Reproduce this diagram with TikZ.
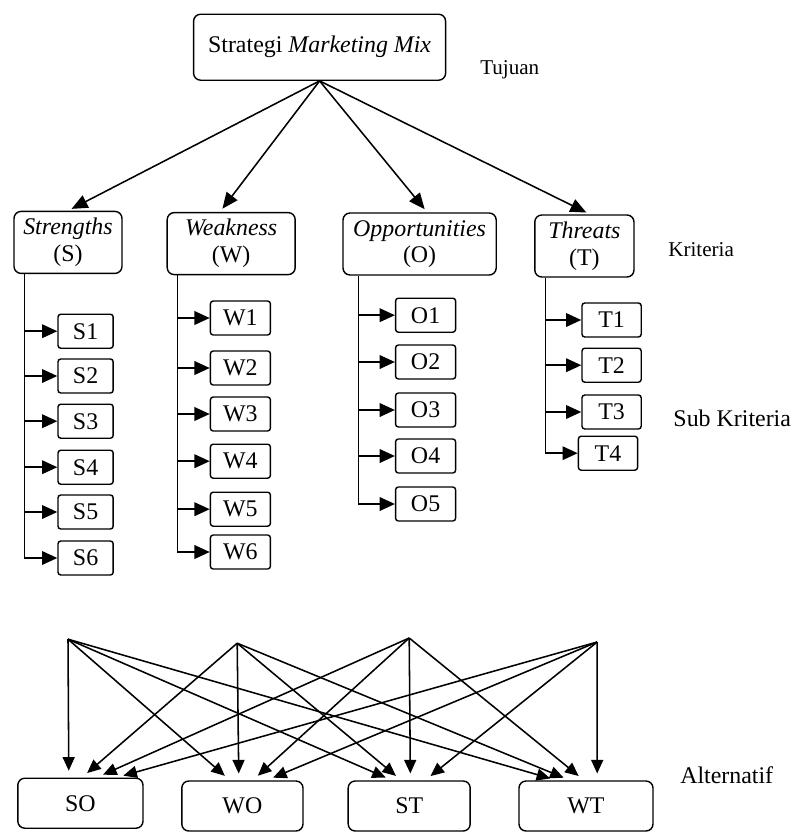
\documentclass[tikz,border=0pt]{standalone}
\usepackage{fontspec}
\setmainfont{Liberation Serif}
\usetikzlibrary{arrows.meta}
\begin{document}
\begin{tikzpicture}[
  goalbox/.style={draw, line width=1pt, rectangle, rounded corners=5pt,
                  minimum width=63mm, minimum height=16.5mm, font=\fontsize{17}{20}\selectfont},
  critbox/.style={draw, line width=1pt, rectangle, rounded corners=5pt,
                  minimum height=15.5mm, align=center, inner sep=1pt, font=\fontsize{17}{19}\selectfont},
  subbox/.style={draw, line width=1pt, rectangle, rounded corners=2pt,
                 minimum width=15mm, minimum height=8.5mm, inner sep=1pt, font=\fontsize{17}{20}\selectfont},
  altbox/.style={draw, line width=1pt, rectangle, rounded corners=5pt,
                 minimum height=12.5mm, font=\fontsize{17}{20}\selectfont},
  lvl/.style={anchor=west, inner sep=0pt, font=\fontsize{17}{20}\selectfont},
  toarr/.style={line width=1.1pt, -{Triangle[length=4mm, width=3.4mm]}, shorten >=1mm},
  subarr/.style={line width=1.1pt, -{Triangle[length=3.8mm, width=3.4mm]}},
  altarr/.style={line width=1.1pt, -{Triangle[length=3.4mm, width=3mm]}, shorten >=1.7mm},
]
\useasboundingbox (0,0) rectangle (19.925,-20.8);
\node[goalbox] (goal) at (7.99,-1.18) {Strategi \textit{Marketing Mix}};
\node[lvl, font=\fontsize{15}{18}\selectfont] (ltuj) at (12.0,-1.75) {Tujuan};
\node[critbox, minimum width=27mm] (s) at (1.70,-6.06) {\textit{Strengths}\\(S)};
\node[critbox, minimum width=32mm] (w) at (5.78,-6.09) {\textit{Weakness}\\(W)};
\node[critbox, minimum width=38.3mm] (o) at (10.49,-6.10) {\textit{Opportunities}\\(O)};
\node[critbox, minimum width=24.8mm] (t) at (14.61,-6.15) {\textit{Threats}\\(T)};
\node[lvl, font=\fontsize{15}{18}\selectfont] (lkrit) at (16.7,-6.25) {Kriteria};
\draw[toarr] (goal.south) -- (s.north);
\draw[toarr] (goal.south) -- ([xshift=-2.8mm]w.north);
\draw[toarr] (goal.south) -- ([xshift=1.9mm]o.north);
\draw[toarr] (goal.south) -- ([xshift=1.4mm]t.north);
\node[subbox, minimum width=13.8mm] (s1) at (2.14,-8.28) {S1};
\node[subbox, minimum width=13.8mm] (s2) at (2.14,-9.40) {S2};
\node[subbox, minimum width=13.8mm] (s3) at (2.14,-10.53) {S3};
\node[subbox, minimum width=13.8mm] (s4) at (2.14,-11.68) {S4};
\node[subbox, minimum width=13.8mm] (s5) at (2.14,-12.80) {S5};
\node[subbox, minimum width=13.8mm] (s6) at (2.14,-13.95) {S6};
\node[subbox] (w1) at (6.01,-7.95) {W1};
\node[subbox] (w2) at (6.01,-9.20) {W2};
\node[subbox] (w3) at (6.01,-10.35) {W3};
\node[subbox] (w4) at (6.01,-11.53) {W4};
\node[subbox] (w5) at (6.01,-12.73) {W5};
\node[subbox] (w6) at (6.01,-13.80) {W6};
\node[subbox] (o1) at (10.64,-7.88) {O1};
\node[subbox] (o2) at (10.64,-9.05) {O2};
\node[subbox] (o3) at (10.64,-10.25) {O3};
\node[subbox] (o4) at (10.64,-11.40) {O4};
\node[subbox] (o5) at (10.64,-12.60) {O5};
\node[subbox, minimum width=14.8mm] (t1) at (15.29,-8.00) {T1};
\node[subbox, minimum width=14.8mm] (t2) at (15.29,-9.13) {T2};
\node[subbox, minimum width=14.8mm] (t3) at (15.29,-10.30) {T3};
\node[subbox, minimum width=14.8mm] (t4) at (15.20,-11.33) {T4};
\node[lvl] (lsub) at (16.83,-10.45) {Sub Kriteria};
\coordinate (sbar) at ([xshift=2.8mm]s.south west);
\coordinate (wbar) at ([xshift=2.8mm]w.south west);
\coordinate (obar) at ([xshift=4mm]o.south west);
\coordinate (tbar) at ([xshift=2.8mm]t.south west);
\draw[subarr] (sbar) |- (s6.west);
\draw[subarr] (sbar |- s1.west) -- (s1.west);
\draw[subarr] (sbar |- s2.west) -- (s2.west);
\draw[subarr] (sbar |- s3.west) -- (s3.west);
\draw[subarr] (sbar |- s4.west) -- (s4.west);
\draw[subarr] (sbar |- s5.west) -- (s5.west);
\draw[subarr] (wbar) |- (w6.west);
\draw[subarr] (wbar |- w1.west) -- (w1.west);
\draw[subarr] (wbar |- w2.west) -- (w2.west);
\draw[subarr] (wbar |- w3.west) -- (w3.west);
\draw[subarr] (wbar |- w4.west) -- (w4.west);
\draw[subarr] (wbar |- w5.west) -- (w5.west);
\draw[subarr] (obar) |- (o5.west);
\draw[subarr] (obar |- o1.west) -- (o1.west);
\draw[subarr] (obar |- o2.west) -- (o2.west);
\draw[subarr] (obar |- o3.west) -- (o3.west);
\draw[subarr] (obar |- o4.west) -- (o4.west);
\draw[subarr] (tbar) |- (t4.west);
\draw[subarr] (tbar |- t1.west) -- (t1.west);
\draw[subarr] (tbar |- t2.west) -- (t2.west);
\draw[subarr] (tbar |- t3.west) -- (t3.west);
\node[altbox, minimum width=31.3mm] (so) at (2.01,-20.08) {SO};
\node[altbox, minimum width=30.3mm] (wo) at (6.06,-20.15) {WO};
\node[altbox, minimum width=30.5mm] (st) at (10.23,-20.15) {ST};
\node[altbox, minimum width=33.5mm] (wt) at (14.65,-20.15) {WT};
\node[lvl] (lalt) at (17.0,-19.38) {Alternatif};
\coordinate (fs) at (1.70,-15.98);
\coordinate (fw) at (5.93,-16.08);
\coordinate (fo) at (10.23,-15.95);
\coordinate (ft) at (14.93,-16.05);
\draw[altarr] (fs) -- ([xshift=-2.9mm]so.north);
\draw[altarr] (fs) -- ([xshift=-3.1mm]wo.north);
\draw[altarr] (fs) -- ([xshift=-4.3mm]st.north);
\draw[altarr] (fs) -- ([xshift=-7.3mm]wt.north);
\draw[altarr] (fw) -- ([xshift=0.4mm]so.north);
\draw[altarr] (fw) -- ([xshift=-0.9mm]wo.north);
\draw[altarr] (fw) -- ([xshift=-2.0mm]st.north);
\draw[altarr] (fw) -- ([xshift=-4.0mm]wt.north);
\draw[altarr] (fo) -- ([xshift=4.1mm]so.north);
\draw[altarr] (fo) -- ([xshift=2.6mm]wo.north);
\draw[altarr] (fo) -- ([xshift=0.3mm]st.north);
\draw[altarr] (fo) -- ([xshift=-0.5mm]wt.north);
\draw[altarr] (ft) -- ([xshift=9.1mm]so.north);
\draw[altarr] (ft) -- ([xshift=6.1mm]wo.north);
\draw[altarr] (ft) -- ([xshift=4.0mm]st.north);
\draw[altarr] (ft) -- ([xshift=2.8mm]wt.north);
\end{tikzpicture}
\end{document}
